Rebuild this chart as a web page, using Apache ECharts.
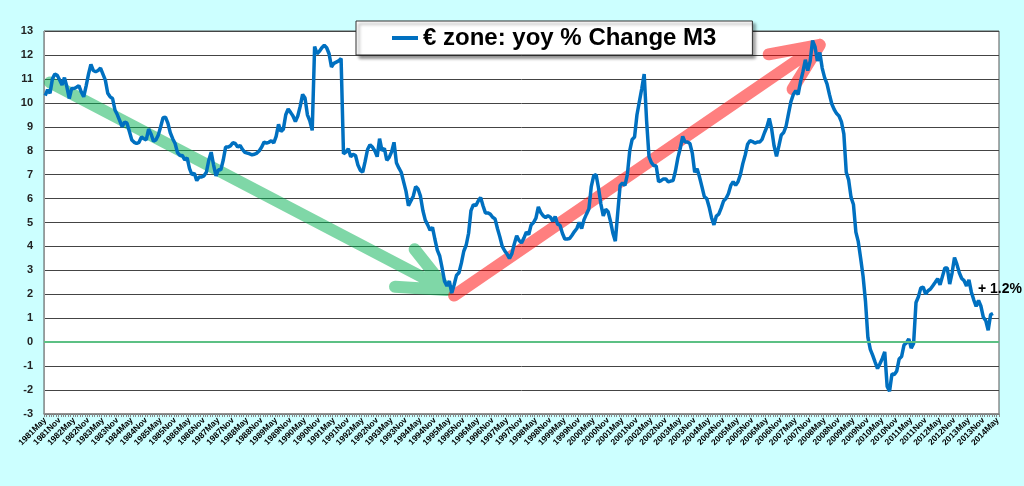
<!DOCTYPE html>
<html>
<head>
<meta charset="utf-8">
<title>€ zone: yoy % Change M3</title>
<script src="https://cdn.jsdelivr.net/npm/echarts@6/dist/echarts.min.js"></script>
<style>
  html, body { margin: 0; padding: 0; background: #ccffff; }
  #chart { width: 1024px; height: 486px; }
</style>
</head>
<body>
<div id="chart"></div>
<script>
// monthly categories, 1981May .. 2014May
const MONTH_NAMES = ['Jan', 'Feb', 'Mar', 'Apr', 'May', 'Jun', 'Jul', 'Aug', 'Sep', 'Oct', 'Nov', 'Dec']
const categories = []
for (let k = 1981 * 12 + 4; k <= 2014 * 12 + 4; k++) {
  categories.push(Math.floor(k / 12) + MONTH_NAMES[k % 12])
}

// yoy % change of M3, one value per month from 1981May
const m3From1981 = [
  10.3, 10.55, 10.4, 11.0, 11.2, 11.15, 10.95, 10.75, 11.05, 10.67, 10.18, 10.6,
  10.6, 10.65, 10.72, 10.45, 10.25, 10.7, 11.2, 11.6, 11.35, 11.3, 11.35, 11.45,
  11.2, 10.95, 10.4, 10.25, 10.18, 9.7, 9.5, 9.25, 9.0, 9.2, 9.15, 8.8,
  8.45, 8.35, 8.3, 8.35, 8.57, 8.5, 8.45, 8.9, 8.7, 8.4, 8.45, 8.65,
  9.0, 9.38, 9.4, 9.15, 8.75, 8.5, 8.3, 7.92, 7.8, 7.8, 7.62, 7.7
]
const m3From1986 = [
  7.25, 7.0, 7.05, 6.75, 6.9, 6.9, 6.95, 7.1, 7.6, 7.94, 7.4, 6.95,
  7.2, 7.2, 7.6, 8.15, 8.15, 8.2, 8.33, 8.3, 8.15, 8.22, 8.05, 7.93,
  7.9, 7.87, 7.83, 7.85, 7.9, 8.0, 8.15, 8.36, 8.32, 8.35, 8.42, 8.32,
  8.6, 9.1, 8.8, 8.9, 9.5, 9.74, 9.6, 9.45, 9.22, 9.45, 9.85, 10.35,
  10.2, 9.5, 9.25, 8.85, 12.35, 12.05, 12.15, 12.3, 12.4, 12.3, 12.05, 11.5
]
const m3From1991 = [
  11.65, 11.7, 11.75, 11.85, 7.87, 7.94, 8.08, 7.75, 7.85, 7.8, 7.4, 7.18,
  7.1, 7.55, 8.05, 8.25, 8.15, 8.0, 7.75, 8.5, 8.0, 8.1, 7.6, 7.72,
  7.95, 8.35, 7.5, 7.28, 7.1, 6.7, 6.3, 5.7, 5.9, 6.1, 6.5, 6.4,
  6.1, 5.5, 5.1, 4.9, 4.68, 4.8, 4.3, 3.85, 3.6, 3.1, 2.55, 2.35,
  2.55, 2.05, 2.4, 2.8, 2.9, 3.3, 3.8, 4.05, 4.55, 5.5, 5.75, 5.7
]
const m3From1996 = [
  5.9, 6.05, 5.7, 5.4, 5.4, 5.35, 5.22, 5.15, 4.75, 4.4, 4.0, 3.82,
  3.68, 3.5, 3.7, 4.1, 4.45, 4.25, 4.15, 4.35, 4.6, 4.5, 4.9, 5.0,
  5.18, 5.65, 5.42, 5.28, 5.21, 5.28, 5.22, 5.05, 5.25, 4.93, 4.88, 4.55,
  4.31, 4.31, 4.33, 4.47, 4.62, 4.75, 5.0, 4.75, 5.12, 5.35, 5.56, 6.5,
  6.95, 7.0, 6.45, 5.77, 5.28, 5.55, 5.45, 5.05, 4.55, 4.22, 5.4, 6.55
]
const m3From2001 = [
  6.65, 6.55, 7.0, 8.0, 8.47, 8.57, 9.5, 10.05, 10.6, 11.2, 9.26, 7.75,
  7.5, 7.38, 7.36, 6.7, 6.75, 6.82, 6.82, 6.7, 6.73, 6.75, 7.15, 7.7,
  8.1, 8.6, 8.36, 8.36, 8.3, 7.9, 7.1, 7.25, 6.9, 6.5, 6.08, 6.0,
  5.65, 5.2, 4.9, 5.27, 5.35, 5.6, 5.9, 6.0, 6.2, 6.55, 6.71, 6.55,
  6.7, 7.0, 7.46, 7.82, 8.27, 8.42, 8.38, 8.32, 8.36, 8.36, 8.47, 8.75
]
const m3From2006 = [
  8.99, 9.35, 8.9, 8.2, 7.76, 8.2, 8.66, 8.76, 9.03, 9.55, 10.05, 10.35,
  10.5, 10.35, 10.88, 11.3, 11.8, 11.35, 11.74, 12.6, 12.35, 11.75, 12.1, 11.45,
  11.05, 10.79, 10.35, 9.95, 9.72, 9.55, 9.45, 9.2, 8.7, 7.1, 6.78, 6.05,
  5.75, 4.6, 4.2, 3.5, 2.75, 1.7, 0.2, -0.3, -0.55, -0.83, -1.1, -0.9,
  -0.68, -0.4, -1.85, -2.05, -1.33, -1.35, -1.2, -0.7, -0.6, -0.12, -0.03, 0.14
]
const m3From2011 = [
  -0.25, -0.05, 1.66, 1.9, 2.27, 2.3, 2.01, 2.15, 2.22, 2.36, 2.5, 2.65,
  2.4, 2.75, 3.1, 3.1, 2.43, 2.9, 3.54, 3.25, 2.9, 2.66, 2.57, 2.35,
  2.6, 2.1, 1.77, 1.5, 1.74, 1.5, 1.04, 0.9, 0.5, 1.15, 1.2
]
const m3 = [].concat(m3From1981, m3From1986, m3From1991, m3From1996, m3From2001, m3From2006, m3From2011)

const yTicks = { min: -3, max: 13, step: 1 }

// trend arrows drawn over the line: [category index, value] for tail and tip
const greenArrow = { from: [2, 10.85], to: [167, 2.18] }
const redArrow = { from: [170, 1.95], to: [322, 12.42] }
const arrows = [
  { ...greenArrow, color: 'rgb(0,176,80)' },
  { ...redArrow, color: 'rgb(255,0,0)' }
]

const lastIndex = m3.length - 1
const font = 'Liberation Sans, Arial, sans-serif'

const chart = echarts.init(document.getElementById('chart'))

const option = {
  backgroundColor: '#ccffff',
  animation: false,
  textStyle: { fontFamily: font },
  grid: {
    left: 44,
    right: 25,
    top: 31,
    bottom: 72,
    show: true,
    backgroundColor: '#ffffff',
    borderColor: '#555',
    borderWidth: 1
  },
  legend: {
    left: 356,
    top: 21,
    padding: [5, 36, 5, 36],
    backgroundColor: '#ffffff',
    borderColor: '#333',
    borderWidth: 1,
    shadowColor: 'rgba(0,0,0,0.45)',
    shadowBlur: 3,
    shadowOffsetX: 3,
    shadowOffsetY: 3,
    itemWidth: 26,
    itemHeight: 4,
    icon: 'rect',
    data: ['€ zone: yoy % Change M3'],
    textStyle: {
      fontSize: 24,
      fontWeight: 'bold',
      color: '#000',
      fontFamily: font
    }
  },
  xAxis: {
    type: 'category',
    data: categories,
    boundaryGap: true,
    axisLine: { onZero: false, lineStyle: { color: '#888', width: 1.5 } },
    axisTick: { show: true, interval: 0, length: 3, lineStyle: { color: '#888' } },
    axisLabel: {
      interval: 5,
      rotate: 45,
      margin: 5,
      fontSize: 8.5,
      fontWeight: 'bold',
      color: '#000',
      fontFamily: font
    },
    splitLine: { show: false }
  },
  yAxis: {
    type: 'value',
    min: yTicks.min,
    max: yTicks.max,
    interval: yTicks.step,
    axisLine: { show: true, lineStyle: { color: '#999' } },
    axisTick: { show: false },
    axisLabel: {
      margin: 11,
      fontSize: 11,
      fontWeight: 'bold',
      color: '#222',
      fontFamily: font
    },
    splitLine: { lineStyle: { color: '#444', width: 1 } }
  },
  series: [
    {
      // zero line, kept under the M3 line
      name: 'zero',
      type: 'line',
      data: [],
      silent: true,
      markLine: {
        silent: true,
        symbol: 'none',
        label: { show: false },
        lineStyle: { color: '#5cc084', width: 2, type: 'solid' },
        data: [{ yAxis: 0 }]
      }
    },
    {
      name: '€ zone: yoy % Change M3',
      type: 'line',
      data: m3,
      showSymbol: false,
      symbol: 'none',
      color: '#0070c0',
      lineStyle: { color: '#0070c0', width: 3.5 },
      markPoint: {
        silent: true,
        symbol: 'circle',
        symbolSize: 1,
        itemStyle: { color: 'rgba(0,0,0,0)' },
        label: {
          show: true,
          position: 'inside',
          offset: [7, -24],
          formatter: '+ 1.2%',
          fontSize: 14,
          fontWeight: 'bold',
          color: '#000',
          fontFamily: font
        },
        data: [{ coord: [lastIndex, m3[lastIndex]] }]
      }
    },
    {
      name: 'arrows',
      type: 'custom',
      silent: true,
      data: arrows.map((a, i) => [i, 0]),
      renderItem: (params, api) => {
        const arw = arrows[params.dataIndex]
        const a = api.coord(arw.from)
        const t = api.coord(arw.to)
        const ang = Math.atan2(a[1] - t[1], a[0] - t[0])
        const len = 52
        const half = 24 * Math.PI / 180
        const b1 = [t[0] + len * Math.cos(ang + half), t[1] + len * Math.sin(ang + half)]
        const b2 = [t[0] + len * Math.cos(ang - half), t[1] + len * Math.sin(ang - half)]
        return {
          type: 'polyline',
          shape: { points: [a, t, b1, t, b2] },
          style: {
            stroke: arw.color,
            fill: 'none',
            lineWidth: 12,
            lineCap: 'round',
            lineJoin: 'round',
            opacity: 0.5
          }
        }
      }
    }
  ]
}

chart.setOption(option)
</script>
</body>
</html>
